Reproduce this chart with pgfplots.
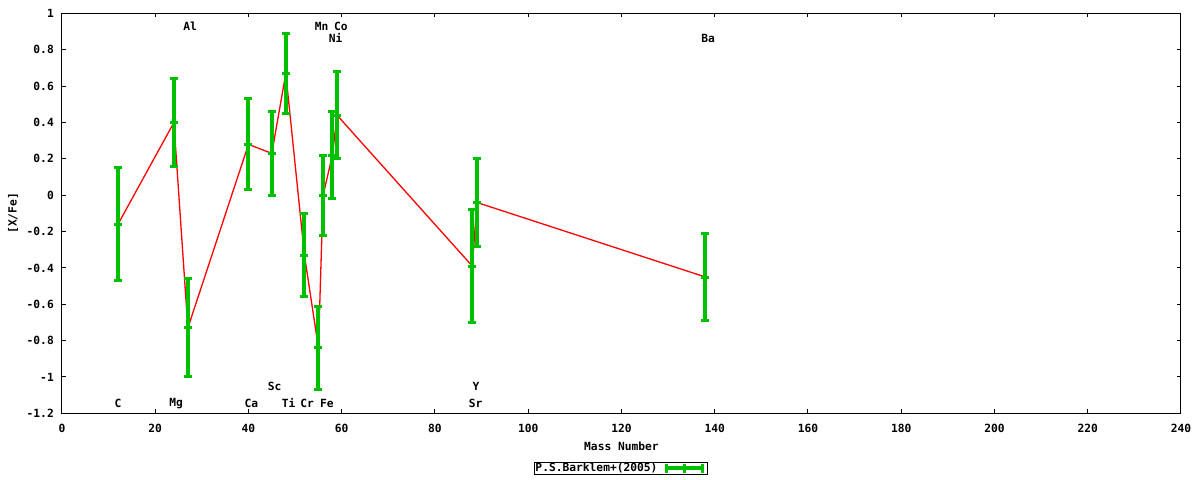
\documentclass[border=0pt]{standalone}
\usepackage{fontspec}
\setmainfont{DejaVu Sans Mono}
\usepackage{pgfplots}
\pgfplotsset{compat=1.18}
\usepackage{pgfplotstable}
\definecolor{egreen}{RGB}{0,192,0}

% mass number, [X/Fe], error
\pgfplotstableread{
m   v      e
12  -0.16  0.31
24   0.40  0.24
27  -0.73  0.27
40   0.28  0.25
45   0.23  0.23
48   0.67  0.22
52  -0.33  0.23
55  -0.84  0.23
56   0.00  0.22
58   0.22  0.24
59   0.44  0.24
88  -0.39  0.31
89  -0.04  0.24
138 -0.45  0.24
}\barklem

\begin{document}
\begin{tikzpicture}
\begin{axis}[
  scale only axis,
  width=1119bp, height=399.8bp,
  xmin=0, xmax=240, ymin=-1.2, ymax=1,
  xtick={0,20,...,240},
  ytick={-1.2,-1,-0.8,-0.6,-0.4,-0.2,0,0.2,0.4,0.6,0.8,1},
  tick align=inside,
  major tick length=4bp,
  every tick/.style={black, line width=1bp},
  axis line style={black, line width=1bp},
  font=\fontsize{11.3}{12}\selectfont\bfseries,
  /pgf/number format/assume math mode=true,
  yticklabel={\pgfmathprintnumber[fixed,precision=1]{\tick}},
  xticklabel style={anchor=center, yshift=-15bp},
  yticklabel style={anchor=east, inner sep=0pt, xshift=-8bp},
  xlabel={Mass Number},
  ylabel={[X/Fe]},
  xlabel style={at={(axis description cs:0.5,0)}, anchor=center, yshift=-33bp},
  ylabel style={at={(axis description cs:-0.0438,0.5)}, anchor=center},
  legend plot pos=right,
  legend style={at={(axis description cs:0.5,0)}, anchor=center, yshift=-55bp,
    draw=black, line width=1bp, inner sep=0pt,
    nodes={inner sep=0.5bp, font=\fontsize{11.3}{12}\selectfont\bfseries}},
  clip=false,
]
\addplot[red, line width=1.3bp, forget plot] table[x=m, y=v] {\barklem};

\addplot[egreen, only marks, mark=-, mark size=4bp, mark options={line width=3bp},
  legend image code/.code={
    \path (0bp,0bp) (49bp,0bp);
    \draw[egreen, line width=4bp] (8bp,0bp) -- (44bp,0bp);
    \draw[egreen, line width=3bp] (8bp,-4.5bp) -- (8bp,4.5bp)
      (26bp,-4.5bp) -- (26bp,4.5bp) (44bp,-4.5bp) -- (44bp,4.5bp);
  },
  error bars/.cd, y dir=both, y explicit,
  error mark=|,
  error bar style={line width=4bp},
  error mark options={line width=3bp, mark size=4bp},
  ]
  table[x=m, y=v, y error=e] {\barklem};
\legend{P.S.Barklem+(2005)}

% element labels
\begin{scope}[every node/.style={inner sep=0pt, anchor=center}]
\node at (axis cs:12,-1.144) {C};
\node at (axis cs:24.5,-1.144) {Mg};
\node at (axis cs:40.6,-1.144) {Ca};
\node at (axis cs:45.6,-1.054) {Sc};
\node at (axis cs:48.6,-1.144) {Ti};
\node at (axis cs:52.6,-1.144) {Cr};
\node at (axis cs:56.8,-1.144) {Fe};
\node at (axis cs:88.7,-1.144) {Sr};
\node at (axis cs:88.8,-1.054) {Y};
\node at (axis cs:27.5,0.931) {Al};
\node at (axis cs:55.7,0.931) {Mn};
\node at (axis cs:59.8,0.931) {Co};
\node at (axis cs:58.7,0.865) {Ni};
\node at (axis cs:138.6,0.865) {Ba};
\end{scope}
\end{axis}
\pgfresetboundingbox
\path (-62bp,-66.7bp) rectangle (1138bp,413.3bp);
\end{tikzpicture}
\end{document}
